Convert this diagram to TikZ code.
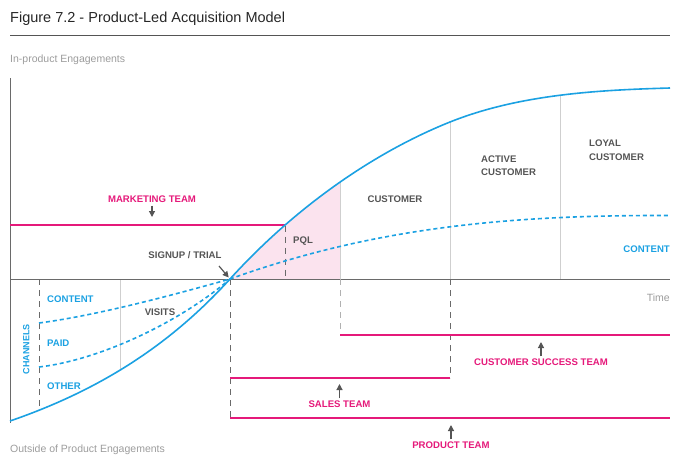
\documentclass[tikz,border=0pt]{standalone}
\usepackage{fontspec}
\setmainfont{Liberation Sans}
\usetikzlibrary{arrows.meta}

\definecolor{pblue}{HTML}{1BA1E2}
\definecolor{pmagenta}{HTML}{E5197A}
\definecolor{plabel}{HTML}{555555}
\definecolor{paxis}{HTML}{6A6A6A}
\definecolor{pgrid}{HTML}{CFCFCF}
\definecolor{ppink}{HTML}{FBE3EE}
\definecolor{pnote}{HTML}{9C9C9C}

\tikzset{
	caps/.style={font=\fontsize{9.6}{12}\selectfont\bfseries, inner sep=0pt, text height=6.9pt, text depth=0pt},
	stage/.style={caps, text=plabel, align=left},
	team/.style={caps, text=pmagenta},
	channel/.style={caps, text=pblue},
	note/.style={font=\fontsize{10.5}{12}\selectfont, text=pnote, inner sep=0pt},
	teamline/.style={pmagenta, line width=2pt},
	scurve/.style={pblue, line width=1.6pt},
	dashcurve/.style={pblue, line width=1.6pt, dash pattern=on 4pt off 3pt},
	phase/.style={paxis, line width=1pt, dash pattern=on 6pt off 5pt},
	gridline/.style={pgrid, line width=1pt},
	pointer/.style={-{Triangle[width=6pt,length=6pt]}, plabel, line width=1.2pt}
}

\begin{document}
\begin{tikzpicture}[x=1pt, y=-1pt]
	\useasboundingbox (0,0) rectangle (696,467);

	% heading
	\node[anchor=base west, inner sep=0pt, font=\fontsize{14.5}{17}\selectfont, text=black!85] (title) at (10,22) {Figure 7.2 - Product-Led Acquisition Model};
	\draw[plabel, line width=1pt] (10,35) -- (670,35);

	% axes
	\coordinate (origin) at (10,279);
	\coordinate (cross) at (230,279);
	\fill[ppink] (cross) .. controls (265,240.5) and (302.5,208.25) .. (340,182.1) -- (340,279) -- cycle;
	\draw[gridline] (120,279) -- (120,370);
	\foreach \x/\y in {340/182.1, 450/122, 560/95.3} {
		\draw[gridline] (\x,\y) -- (\x,279);
	}
	\draw[paxis, line width=1pt] (10,78) -- (10,423);
	\draw[paxis, line width=1pt] (origin) -- (670,279);

	\node[note, anchor=west] (ylabel) at (10,60) {In-product Engagements};
	\node[note, anchor=west] (neglabel) at (10,450) {Outside of Product Engagements};
	\node[note, anchor=east] (timelabel) at (670,298) {Time};

	% phase limits
	\draw[phase] (39,279) -- (39,410);
	\draw[phase] (cross) -- (230,418);
	\draw[phase] (285,225.5) -- (285,279);
	\draw[phase, pgrid!70!paxis] (340,279) -- (340,335);
	\draw[phase] (450,279) -- (450,378);

	% teams
	\draw[teamline] (10,225) -- (285,225);
	\draw[teamline] (340,335) -- (670,335);
	\draw[teamline] (230,378) -- (450,378);
	\draw[teamline] (230,418) -- (670,418);

	% curves
	\draw[scurve] (10,421) .. controls (100,390) and (170,345) .. (cross)
		.. controls (300,202) and (380,150) .. (450,122)
		.. controls (520,94) and (600,90) .. (670,88);
	\draw[dashcurve] (39,323) .. controls (100,315) and (180,293) .. (cross)
		.. controls (380,225) and (520,215) .. (670,215.5);
	\draw[dashcurve] (39,367) .. controls (100,360) and (180,322) .. (cross);

	% labels
	\node[team] (mkt) at (152,199) {MARKETING TEAM};
	\coordinate (mkttip) at (152,217);
	\draw[pointer, shorten <=3pt] (mkt) -- (mkttip);

	\node[stage] (signup) at (185,255) {SIGNUP / TRIAL};
	\coordinate (signtail) at (219,266);
	\draw[pointer, shorten >=2pt] (signtail) -- (cross);

	\node[stage] (pql) at (303,240) {PQL};
	\node[stage] (customer) at (395,199) {CUSTOMER};
	\node[stage, anchor=west, text height=, text depth=] (active) at (481,165.5) {ACTIVE\\[1.5pt]CUSTOMER};
	\node[stage, anchor=west, text height=, text depth=] (loyal) at (589,150) {LOYAL\\[1.5pt]CUSTOMER};
	\node[stage] (visits) at (160,312) {VISITS};

	\node[channel, anchor=east] (content) at (670,249) {CONTENT};
	\node[channel, anchor=west] (chcontent) at (47,299) {CONTENT};
	\node[channel, anchor=west] (chpaid) at (47,343) {PAID};
	\node[channel, anchor=west] (chother) at (47,386) {OTHER};
	\node[channel, rotate=90, font=\fontsize{9}{11}\selectfont\bfseries] (channels) at (26,349) {CHANNELS};

	\node[team] (success) at (541,362) {CUSTOMER SUCCESS TEAM};
	\coordinate (successtip) at (541,342);
	\draw[pointer, shorten <=2pt] (success) -- (successtip);

	\node[team] (sales) at (339.5,404) {SALES TEAM};
	\coordinate (salestip) at (339.5,384);
	\draw[pointer, shorten <=2pt] (sales) -- (salestip);

	\node[team] (product) at (451,445) {PRODUCT TEAM};
	\coordinate (producttip) at (451,425);
	\draw[pointer, shorten <=2pt] (product) -- (producttip);
\end{tikzpicture}
\end{document}
